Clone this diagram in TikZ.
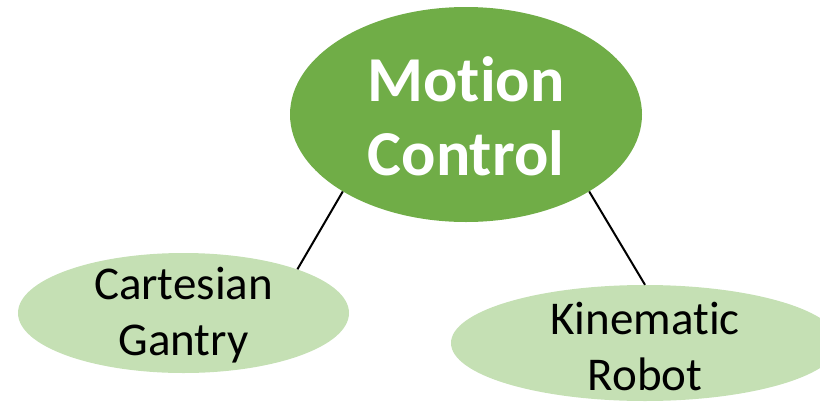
\documentclass[tikz,border=0pt]{standalone}
\usepackage{fontspec}
\setmainfont{Carlito}[RawFeature=-liga]
\usetikzlibrary{shapes.geometric}
\definecolor{maingreen}{HTML}{70AD47}
\definecolor{lightgreen}{HTML}{C5E0B4}
\tikzset{
  mainell/.style={ellipse, fill=maingreen, inner sep=0pt, minimum width=352pt, minimum height=215pt},
  subell/.style={ellipse, fill=lightgreen, inner sep=0pt},
  maintext/.style={text=white, align=center, font=\fontsize{64}{74}\selectfont\bfseries},
  subtext/.style={text=black, align=center, font=\fontsize{47}{56}\selectfont},
  conn/.style={draw=black, line width=2pt}
}
\begin{document}
\begin{tikzpicture}[x=1pt,y=-1pt]
\clip (0,0) rectangle (820,405);
\node[mainell] (main) at (466,114.5) {};
\node[subell, minimum width=331pt, minimum height=120pt] (left) at (183.5,313) {};
\node[subell, minimum width=388pt, minimum height=116pt] (right) at (645,343) {};
\node[maintext] (mt) at (466,116) {Motion\\Control};
\node[subtext] (lt) at (183.5,315) {Cartesian\\Gantry};
\node[subtext] (rt) at (645,346) {Kinematic\\Robot};
\draw[conn] (main.212) -- (left.21);
\draw[conn] (main.328) -- (right.90);
\end{tikzpicture}
\end{document}
